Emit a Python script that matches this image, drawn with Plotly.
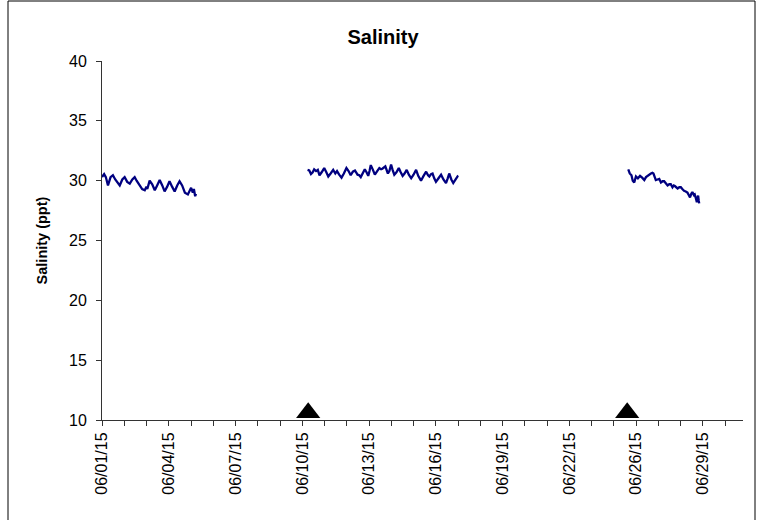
import pandas as pd
import plotly.graph_objects as go

START = "2015-06-01"

# Segment 1 (days since 06/01/15 00:00, salinity ppt)
seg1_days = [0.00, 0.10, 0.18, 0.28, 0.40, 0.51, 0.62, 0.72, 0.83, 0.95, 1.06, 1.18, 1.30, 1.42,
             1.53, 1.62, 1.75, 1.88, 2.00, 2.08, 2.12, 2.23, 2.35, 2.47, 2.58, 2.70, 2.82, 2.93,
             3.05, 3.16, 3.28, 3.40, 3.52, 3.63, 3.75, 3.88, 4.02, 4.10, 4.17, 4.25, 4.30, 4.36, 4.40]
seg1_vals = [30.3, 30.55, 30.3, 29.6, 30.3, 30.45, 30.1, 29.9, 29.6, 30.1, 30.3, 29.9, 29.75, 30.1,
             30.3, 30.0, 29.7, 29.3, 29.2, 29.5, 29.3, 30.0, 29.7, 29.2, 29.6, 30.05, 29.6, 29.1,
             29.5, 29.95, 29.5, 29.1, 29.6, 29.95, 29.6, 29.0, 28.85, 29.2, 29.4, 29.0, 29.3, 28.7, 28.9]

# Segment 2
seg2_days = [9.62, 9.70, 9.78, 9.86, 9.93, 10.02, 10.10, 10.18, 10.28, 10.40, 10.50, 10.59, 10.70,
             10.82, 10.92, 11.00, 11.10, 11.21, 11.32, 11.44, 11.54, 11.64, 11.74, 11.84, 11.96,
             12.04, 12.11, 12.20, 12.30, 12.38, 12.46, 12.52, 12.58, 12.68, 12.77, 12.88, 12.98,
             13.06, 13.12, 13.26, 13.38, 13.45, 13.53, 13.60, 13.68, 13.78, 13.89, 13.98, 14.07,
             14.16, 14.26, 14.36, 14.47, 14.58, 14.70, 14.80, 14.93, 15.05, 15.17, 15.26, 15.32,
             15.40, 15.47, 15.55, 15.63, 15.75, 15.87, 15.98, 16.10, 16.18, 16.25, 16.35, 16.44,
             16.55, 16.64, 16.67]
seg2_vals = [30.9, 30.85, 30.55, 30.7, 30.95, 30.8, 30.9, 30.45, 30.7, 31.05, 30.7, 30.35, 30.6,
             30.9, 30.6, 30.8, 30.5, 30.25, 30.6, 31.05, 30.8, 30.45, 30.75, 30.85, 30.5,
             30.45, 30.3, 30.6, 30.95, 30.7, 30.4, 30.8, 31.3, 30.9, 30.5, 30.8, 31.05,
             30.95, 31.0, 31.2, 30.6, 30.8, 31.35, 30.9, 30.5, 30.7, 31.05, 30.7, 30.4,
             30.6, 30.9, 30.5, 30.2, 30.5, 30.9, 30.4, 30.0, 30.4, 30.75, 30.45, 30.35,
             30.55, 30.6, 30.2, 29.9, 30.2, 30.5, 30.1, 29.8, 30.2, 30.6, 30.1, 29.8,
             30.1, 30.35, 30.3]

# Segment 3
seg3_days = [24.63, 24.70, 24.78, 24.84, 24.91, 24.95, 24.99, 25.08, 25.18, 25.28, 25.38, 25.46,
             25.53, 25.62, 25.69, 25.76, 25.81, 25.87, 25.92, 26.00, 26.08, 26.16, 26.24, 26.31,
             26.40, 26.47, 26.55, 26.62, 26.70, 26.76, 26.81, 26.88, 26.94, 27.02, 27.09, 27.16,
             27.24, 27.32, 27.40, 27.46, 27.52, 27.58, 27.63, 27.70, 27.74, 27.80, 27.84, 27.88,
             27.90, 27.93, 27.95]
seg3_vals = [30.95, 30.6, 30.45, 30.0, 29.85, 30.2, 30.35, 30.2, 30.4, 30.25, 30.05, 30.3,
             30.4, 30.5, 30.6, 30.65, 30.6, 30.3, 30.05, 30.1, 30.15, 29.85, 29.95, 29.95,
             29.7, 29.6, 29.7, 29.7, 29.45, 29.6, 29.55, 29.4, 29.35, 29.45, 29.45, 29.3,
             29.15, 29.1, 29.0, 28.8, 28.6, 28.9, 29.05, 28.8, 28.85, 28.5, 28.2, 28.6,
             28.75, 28.3, 28.1]

# Event markers (triangles on the axis)
event_days = [9.65, 24.58]
event_level = [10.6, 10.6]

t0 = pd.Timestamp(START)
def to_dates(days):
    return [t0 + pd.to_timedelta(d, unit="D") for d in days]

xs, ys = [], []
for d, v in [(seg1_days, seg1_vals), (seg2_days, seg2_vals), (seg3_days, seg3_vals)]:
    xs += to_dates(d) + [None]
    ys += list(v) + [None]

fig = go.Figure()
fig.add_trace(go.Scatter(x=xs, y=ys, mode="lines", connectgaps=False,
                         line=dict(color="#000080", width=2.3), showlegend=False))
fig.add_trace(go.Scatter(x=to_dates(event_days), y=event_level, mode="markers",
                         marker=dict(symbol="triangle-up", size=21, color="black"),
                         showlegend=False))

W, H = 765, 520
L, R, T, B = 102, 22, 61, 100
pw, ph = W - L - R, H - T - B
def px_x(p):
    return (p - L) / pw
def px_y(p):
    return (H - B - p) / ph

fig.update_layout(
    width=W, height=H,
    margin=dict(l=L, r=R, t=T, b=B),
    paper_bgcolor="white", plot_bgcolor="white",
    font=dict(family="Arial, Liberation Sans, sans-serif", color="black", size=16),
    title=dict(text="<b>Salinity</b>", x=383 / W, xref="container", xanchor="center",
               y=1 - 37 / H, yref="container", yanchor="middle",
               font=dict(size=20, color="black")),
    xaxis=dict(
        type="date", range=["2015-06-01", "2015-07-01"],
        tick0="2015-06-01", dtick=3.125 * 86400000, tickformat="%m/%d/%y",
        tickangle=-90, ticks="outside", ticklen=5, tickcolor="#333",
        showline=True, linecolor="#333", linewidth=1, showgrid=False, zeroline=False,
        tickfont=dict(size=16),
        minor=dict(dtick=3.125 / 3 * 86400000, tick0="2015-06-01", ticks="outside",
                   ticklen=5, tickcolor="#333", showgrid=False),
    ),
    yaxis=dict(
        range=[10, 40], dtick=5, tick0=10, ticks="outside", ticklen=5, tickcolor="#333",
        showline=True, linecolor="#333", linewidth=1, showgrid=False, zeroline=False,
        tickfont=dict(size=16), ticklabelstandoff=6,
        title=dict(text="<b>Salinity (ppt)</b>", font=dict(size=14.5), standoff=17),
    ),
    shapes=[dict(type="rect", xref="paper", yref="paper",
                 x0=px_x(8), x1=px_x(755), y0=px_y(523), y1=px_y(1),
                 line=dict(color="black", width=1), fillcolor="rgba(0,0,0,0)", layer="above")],
)

fig.write_html("out.html", config={"displayModeBar": False},
               post_script="document.body.style.margin='0px';")
